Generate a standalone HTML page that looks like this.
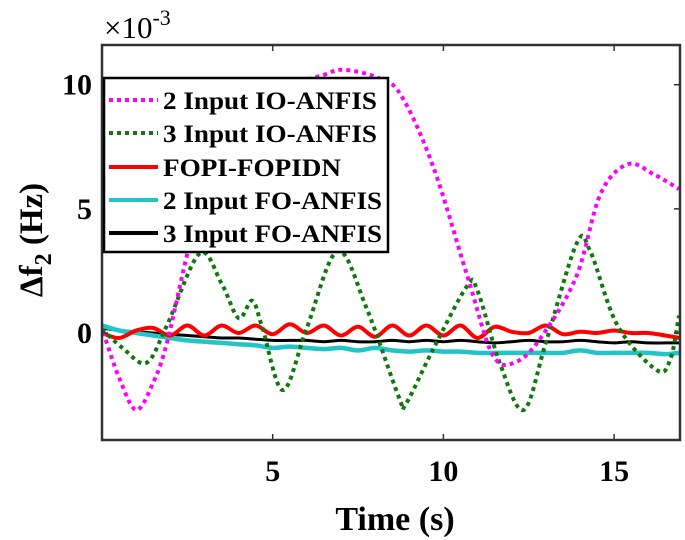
<!DOCTYPE html>
<html><head><meta charset="utf-8">
<style>
html,body{margin:0;padding:0;background:#fff;}
svg{display:block;font-family:"Liberation Serif",serif;font-weight:bold;}
</style></head><body>
<svg id="chart" width="685" height="540" viewBox="0 0 685 540" xmlns="http://www.w3.org/2000/svg">
<g id="plot"></g>
<text x="104" y="38" font-size="31" font-weight="normal">×10<tspan dy="-13" font-size="22">-3</tspan></text>
<text transform="translate(42,240) rotate(-90)" text-anchor="middle" font-size="33">Δf<tspan dy="9" font-size="24">2</tspan><tspan dy="-9"> (Hz)</tspan></text>
<text x="395" y="530" text-anchor="middle" font-size="34">Time (s)</text>
<g>
<rect x="104" y="78" width="284" height="174" fill="#fff" stroke="#000" stroke-width="2.5"/>
<line x1="109" y1="100" x2="158" y2="100" stroke="#ff00ff" stroke-width="4" stroke-dasharray="4 4"/>
<text x="163" y="109" font-size="25" textLength="214" lengthAdjust="spacingAndGlyphs">2 Input IO-ANFIS</text>
<line x1="109" y1="133" x2="158" y2="133" stroke="#0e7a0e" stroke-width="4" stroke-dasharray="4 4"/>
<text x="163" y="142" font-size="25" textLength="214" lengthAdjust="spacingAndGlyphs">3 Input IO-ANFIS</text>
<line x1="109" y1="167" x2="158" y2="167" stroke="#ff0000" stroke-width="4"/>
<text x="163" y="176" font-size="25" textLength="178" lengthAdjust="spacingAndGlyphs">FOPI-FOPIDN</text>
<line x1="109" y1="200" x2="158" y2="200" stroke="#22c4c4" stroke-width="4"/>
<text x="163" y="209" font-size="25" textLength="219" lengthAdjust="spacingAndGlyphs">2 Input FO-ANFIS</text>
<line x1="109" y1="233" x2="158" y2="233" stroke="#000" stroke-width="4"/>
<text x="163" y="242" font-size="25" textLength="219" lengthAdjust="spacingAndGlyphs">3 Input FO-ANFIS</text>
</g>
</svg>
<script>
const xTicks=[5,10,15];
const yTicks=[0,5,10];
const tIO2=[0,0.1,0.5,1.0,1.5,1.9,2.5,2.8,3.5,4.5,5.5,6.5,7.07,8.05,8.75,9.7,10.7,11.45,12.15,12.9,13.9,14.6,15.4,16.15,16.9];
const vIO2=[0,-0.25,-1.8,-3.1,-2.0,-0.4,3.2,4.5,6.8,8.8,9.9,10.4,10.6,10.3,9.6,6.7,2.3,-0.9,-1.15,-0.1,2.3,5.6,6.8,6.4,5.8];
const tIO3=[0,0.6,1.3,1.9,2.86,3.5,4.0,4.4,4.7,5.3,6.0,6.9,7.75,8.7,8.9,9.7,10.7,11.0,11.65,12.35,13.0,13.9,14.3,15.1,16.25,16.65,16.9];
const vIO3=[0.15,-0.6,-1.2,0.3,3.2,2.0,0.6,1.3,0.2,-2.3,0.2,3.3,1.0,-2.6,-2.85,-0.65,1.9,1.7,-1.2,-3.1,-0.4,3.6,3.3,0.3,-1.5,-1.05,0.7];
const tFO=[0,0.5,1,1.5,2,2.5,3,3.5,4,4.5,5,5.5,6,6.5,7,7.5,8,8.5,9,9.5,10,10.5,11,11.5,12,12.5,13,13.5,14,14.5,15,15.5,16,16.5,16.9];
const vFOPI=[0,-0.2,0.1,0.2,-0.1,0.3,-0.1,0.3,0,0.3,-0.05,0.35,0,0.3,-0.1,0.25,-0.15,0.3,-0.1,0.3,-0.1,0.3,-0.2,0.25,0.05,0,0.3,-0.05,0.05,0,0.1,0,0,-0.1,-0.2];
const vFO2=[0.3,0.1,0,-0.1,-0.2,-0.3,-0.35,-0.4,-0.45,-0.5,-0.6,-0.55,-0.6,-0.65,-0.6,-0.7,-0.6,-0.7,-0.75,-0.7,-0.75,-0.75,-0.8,-0.8,-0.8,-0.8,-0.8,-0.8,-0.7,-0.8,-0.8,-0.8,-0.8,-0.85,-0.8];
const vFO3=[0.2,0.1,0.05,0,-0.05,-0.1,-0.15,-0.2,-0.2,-0.25,-0.3,-0.3,-0.3,-0.35,-0.3,-0.35,-0.35,-0.3,-0.35,-0.3,-0.35,-0.3,-0.35,-0.4,-0.35,-0.3,-0.35,-0.35,-0.3,-0.35,-0.4,-0.35,-0.4,-0.4,-0.4];

const L=102,R=680,T=45,B=440;
const xmin=0,xmax=16.93,ymin=-4.31,ymax=11.6;
const NS="http://www.w3.org/2000/svg";
function xs(v){return L+(v-xmin)/(xmax-xmin)*(R-L);}
function ys(v){return B-(v-ymin)/(ymax-ymin)*(B-T);}
const svg=document.getElementById('chart');
const plot=document.getElementById('plot');
function mk(tag,attrs,parent){const e=document.createElementNS(NS,tag);for(const k in attrs)e.setAttribute(k,attrs[k]);(parent||plot).appendChild(e);return e;}
const clip=mk('clipPath',{id:'clp'});
mk('rect',{x:L,y:T,width:R-L,height:B-T},clip);
function smoothPath(ts,vs){
  const p=ts.map((t,i)=>[xs(t),ys(vs[i])]);
  let d='M'+p[0][0].toFixed(1)+','+p[0][1].toFixed(1);
  for(let i=0;i<p.length-1;i++){
    const p0=p[Math.max(0,i-1)],p1=p[i],p2=p[i+1],p3=p[Math.min(p.length-1,i+2)];
    const c1=[p1[0]+(p2[0]-p0[0])/6,p1[1]+(p2[1]-p0[1])/6];
    const c2=[p2[0]-(p3[0]-p1[0])/6,p2[1]-(p3[1]-p1[1])/6];
    d+='C'+c1[0].toFixed(1)+','+c1[1].toFixed(1)+' '+c2[0].toFixed(1)+','+c2[1].toFixed(1)+' '+p2[0].toFixed(1)+','+p2[1].toFixed(1);
  }
  return d;
}
const series=[
 [tFO,vFO3,'#000','none','series-3-input-fo',3],
 [tFO,vFO2,'#22c4c4','none','series-2-input-fo',4.5],
 [tFO,vFOPI,'#ff0000','none','series-fopi-fopidn',4],
 [tIO3,vIO3,'#0e7a0e','4 4','series-3-input-io',4],
 [tIO2,vIO2,'#ff00ff','4 4','series-2-input-io',4]
];
series.forEach(s=>{
  const p=mk('path',{d:smoothPath(s[0],s[1]),fill:'none',stroke:s[2],'stroke-width':s[5],'stroke-dasharray':s[3],'clip-path':'url(#clp)'});
  
  
});
xTicks.forEach(v=>{
  const x=xs(v);
  const a=mk('line',{x1:x,x2:x,y1:B,y2:B-6,stroke:'#333','stroke-width':1.5});
  
  
  const b=mk('line',{x1:x,x2:x,y1:T,y2:T+6,stroke:'#333','stroke-width':1.5});
  
  
  const t=mk('text',{x:x,y:B+41,'text-anchor':'middle','font-size':30});
  t.textContent=v;
  
  
});
yTicks.forEach(v=>{
  const y=ys(v);
  const a=mk('line',{x1:L,x2:L+6,y1:y,y2:y,stroke:'#333','stroke-width':1.5});
  
  
  const b=mk('line',{x1:R,x2:R-6,y1:y,y2:y,stroke:'#333','stroke-width':1.5});
  
  
  const t=mk('text',{x:L-10,y:y+10,'text-anchor':'end','font-size':30});
  t.textContent=v;
  
  
});
const box=mk('rect',{x:L,y:T,width:R-L,height:B-T,fill:'none',stroke:'#333','stroke-width':2.5});


</script>
</body></html>
